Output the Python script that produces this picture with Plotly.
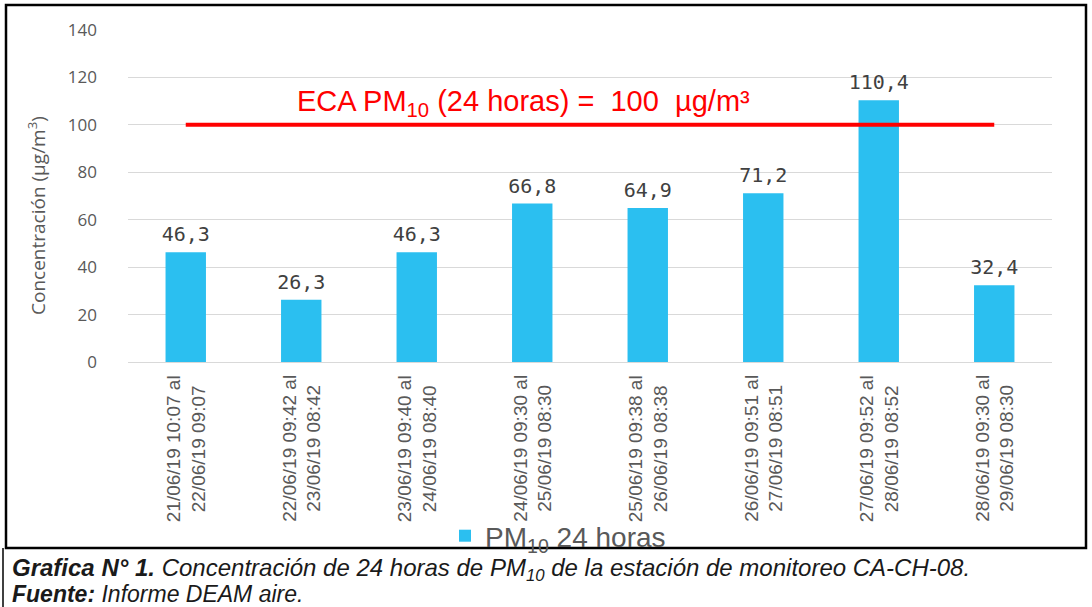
import plotly.graph_objects as go

categories = [
    "21/06/19 10:07 al<br>22/06/19 09:07",
    "22/06/19 09:42 al<br>23/06/19 08:42",
    "23/06/19 09:40 al<br>24/06/19 08:40",
    "24/06/19 09:30 al<br>25/06/19 08:30",
    "25/06/19 09:38 al<br>26/06/19 08:38",
    "26/06/19 09:51 al<br>27/06/19 08:51",
    "27/06/19 09:52 al<br>28/06/19 08:52",
    "28/06/19 09:30 al<br>29/06/19 08:30",
]
pm10 = [46.3, 26.3, 46.3, 66.8, 64.9, 71.2, 110.4, 32.4]
eca_limit = 100
y_ticks = [0, 20, 40, 60, 80, 100, 120, 140]

W, H = 1092, 607
x0, x1 = 128, 1052
y_bottom, y_top = 362, 30

fig = go.Figure()
fig.add_trace(go.Bar(
    x=categories, y=pm10, name="PM<sub>10</sub> 24 horas",
    marker=dict(color="#2BBFF0"),
))
# value labels (invisible marker to set offset above bar tops)
fig.add_trace(go.Scatter(
    x=categories, y=pm10, mode="markers+text",
    marker=dict(size=8, opacity=0), showlegend=False, hoverinfo="skip",
    texttemplate="%{y:.1f}", textposition="top center",
    textfont=dict(family="DejaVu Sans Mono, monospace", size=20, color="#404040"),
    cliponaxis=False,
))
fig.add_trace(go.Scatter(
    x=[categories[0], categories[-1]], y=[eca_limit, eca_limit],
    mode="lines", line=dict(color="#FF0000", width=4), showlegend=False,
    hoverinfo="skip",
))

fig.update_layout(
    template="none",
    width=W, height=H,
    margin=dict(l=0, r=0, t=0, b=0, autoexpand=False),
    paper_bgcolor="white", plot_bgcolor="white",
    separators=",.",
    bargap=0.65,
    showlegend=True,
    legend=dict(x=0.511, y=1 - 536 / H, xanchor="center", yanchor="middle",
                font=dict(family="Liberation Sans, Arial", size=28, color="#595959"),
                itemsizing="constant", itemwidth=30, bgcolor="rgba(0,0,0,0)"),
    xaxis=dict(domain=[x0 / W, x1 / W], automargin=False, showticklabels=False,
               showline=True, linecolor="#d9d9d9", linewidth=1, ticks="", showgrid=False),
    yaxis=dict(domain=[1 - y_bottom / H, 1 - y_top / H], range=[0, 140], automargin=False,
               tickvals=y_ticks, showgrid=True, gridcolor="#d9d9d9", gridwidth=1,
               zeroline=False, showline=False, ticks="", ticklabelstandoff=30,
               tickfont=dict(family="Open Sans, Lato, sans-serif", size=17, color="#595959")),
)

# category labels, rotated, centered on each bar
for c in categories:
    fig.add_annotation(
        x=c, y=1 - 373 / H, xref="x", yref="paper", xanchor="center", yanchor="top",
        text=c, textangle=-90, showarrow=False, align="center",
        font=dict(family="Liberation Sans, Arial", size=19, color="#595959"),
    )

# y-axis title
fig.add_annotation(
    x=37 / W, y=1 - 216 / H, xref="paper", yref="paper", xanchor="center", yanchor="middle",
    text="Concentración (µg/m<sup>3</sup>)", textangle=-90, showarrow=False,
    font=dict(family="Open Sans, Lato, sans-serif", size=19, color="#595959"),
)

fig.add_annotation(
    x=523 / W, y=1 - 123 / H, xref="paper", yref="paper", xanchor="center", yanchor="bottom",
    text="ECA PM<sub>10</sub> (24 horas) =  100  µg/m³", showarrow=False,
    font=dict(family="Liberation Sans, Arial", size=29, color="#FF0000"),
)

# outer border of chart
fig.add_shape(type="rect", xref="paper", yref="paper",
              x0=6 / W, x1=1086 / W, y0=1 - 548 / H, y1=1 - 5 / H,
              line=dict(color="black", width=2.5))
fig.add_shape(type="line", xref="paper", yref="paper",
              x0=3 / W, x1=3 / W, y0=0, y1=1 - 548 / H,
              line=dict(color="black", width=1.5))

cap_font = "Liberation Sans Narrow, Liberation Sans, Arial"
fig.add_annotation(
    x=10 / W, y=1 - 569 / H, xref="paper", yref="paper", xanchor="left", yanchor="middle",
    text="<b><i>Grafica N° 1.</i></b><i> Concentración de 24 horas de PM<sub>10</sub> de la estación de monitoreo CA-CH-08.</i>",
    showarrow=False, font=dict(family=cap_font, size=24, color="#1a1a1a"),
)
fig.add_annotation(
    x=10 / W, y=1 - 594 / H, xref="paper", yref="paper", xanchor="left", yanchor="middle",
    text="<b><i>Fuente:</i></b><i> Informe DEAM aire.</i>",
    showarrow=False, font=dict(family=cap_font, size=23, color="#1a1a1a"),
)

fig.write_html("out.html", config={"displayModeBar": False},
               post_script="document.body.style.margin='0px';")
